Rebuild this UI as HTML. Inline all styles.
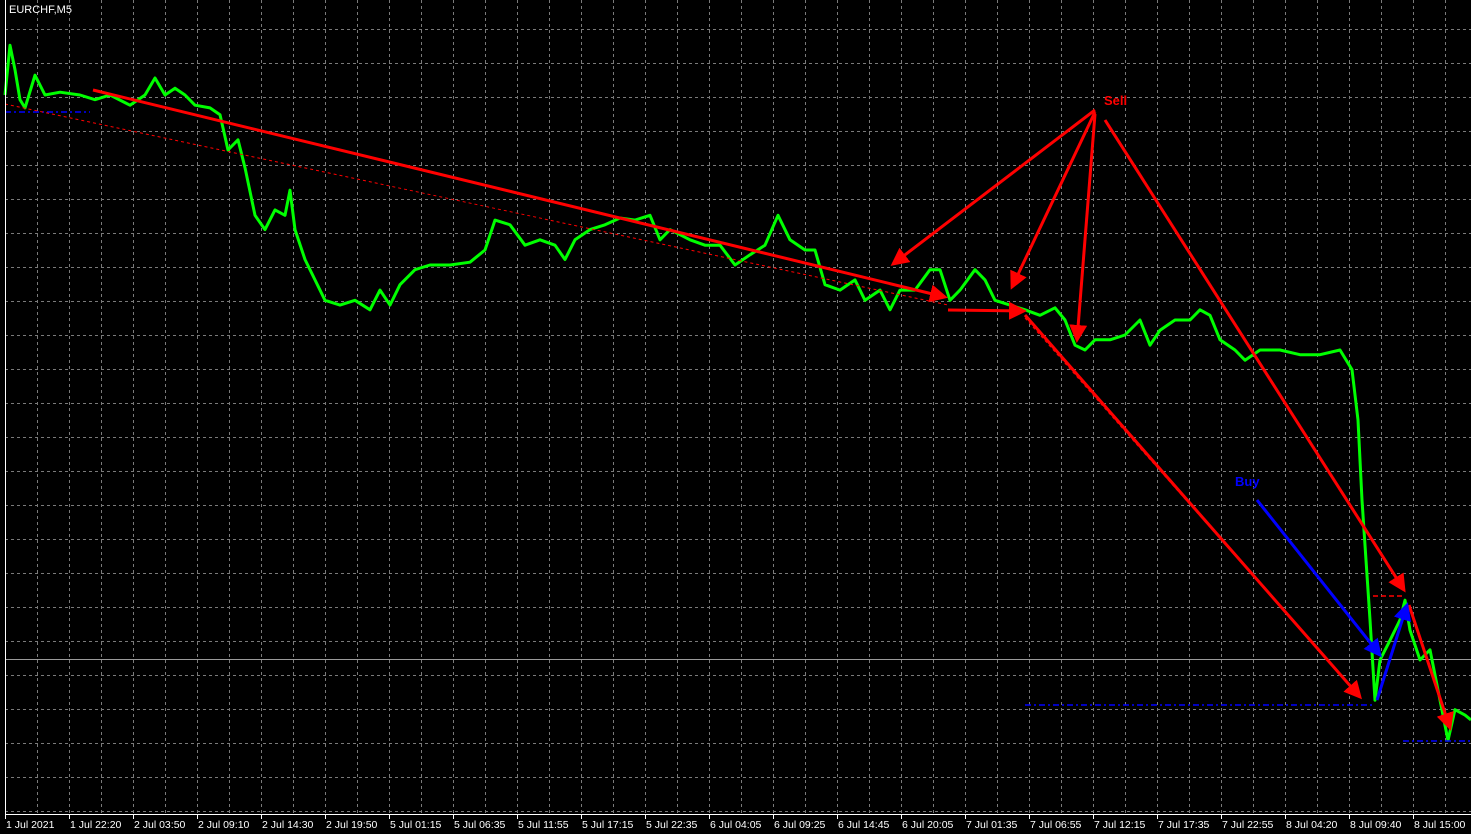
<!DOCTYPE html>
<html><head><meta charset="utf-8"><style>
html,body{margin:0;padding:0;background:#000;width:1471px;height:834px;overflow:hidden}
svg{display:block}
text{font-family:"Liberation Sans",sans-serif}
</style></head><body>
<svg id="chart" width="1471" height="834" xmlns="http://www.w3.org/2000/svg">
<defs>
<marker id="ar" markerWidth="6" markerHeight="6" refX="5" refY="3" orient="auto" markerUnits="strokeWidth"><path d="M0,0 L6,3 L0,6 z" fill="#ff0000"/></marker>
<marker id="ab" markerWidth="6" markerHeight="6" refX="5" refY="3" orient="auto" markerUnits="strokeWidth"><path d="M0,0 L6,3 L0,6 z" fill="#0000ff"/></marker>
</defs>
<g id="grid"></g>
<line x1="5" y1="659.5" x2="1471" y2="659.5" stroke="#9a9a9a" stroke-width="1"/>
<g id="series"></g>
<g id="annot"></g>
<g id="axis"></g>
<text x="9" y="13" fill="#fff" font-size="11">EURCHF,M5</text>
</svg>
<script>
const NS='http://www.w3.org/2000/svg';
const bars=[0,5,10,15,20,30,40,55,75,90,105,125,140,150,160,170,180,190,205,215,223,233,240,250,260,270,280,285,290,300,310,320,335,350,365,375,385,395,410,425,445,465,480,490,505,520,535,550,560,570,585,600,615,630,645,655,665,685,700,715,730,745,760,773,785,800,810,820,835,850,860,875,885,895,910,925,935,945,955,970,980,990,1005,1020,1035,1050,1060,1070,1080,1090,1105,1120,1135,1145,1155,1170,1185,1195,1205,1215,1230,1240,1255,1275,1295,1315,1335,1347,1353,1357,1361,1365,1370,1375,1385,1395,1400,1405,1415,1425,1435,1443,1450,1460,1466];
const prices=[10950.3,10957.6,10954.0,10949.6,10948.4,10953.2,10950.3,10950.7,10950.3,10949.6,10950.3,10948.8,10950.3,10952.8,10950.3,10951.3,10950.3,10948.8,10948.4,10947.4,10942.2,10943.7,10939.6,10932.6,10930.5,10933.4,10932.6,10936.3,10930.5,10926.1,10923.1,10920.1,10919.4,10920.1,10918.7,10921.6,10919.4,10922.4,10924.6,10925.3,10925.3,10925.7,10927.5,10931.9,10931.2,10928.2,10929.0,10928.2,10926.1,10929.0,10930.5,10931.2,10932.2,10931.9,10932.6,10929.0,10930.5,10929.0,10928.2,10928.2,10925.3,10926.8,10928.2,10932.6,10929.0,10927.5,10927.5,10922.4,10921.6,10923.1,10920.1,10921.6,10918.7,10921.6,10921.6,10924.6,10924.6,10920.1,10921.6,10924.6,10923.1,10920.1,10919.4,10918.7,10917.9,10919.0,10917.2,10913.5,10912.8,10914.3,10914.3,10915.0,10917.2,10913.5,10915.7,10917.2,10917.2,10918.7,10917.9,10914.3,10912.8,10911.3,10912.8,10912.8,10912.1,10912.1,10912.8,10909.9,10902.5,10890.7,10881.9,10873.1,10861.3,10867.2,10870.1,10873.1,10876.0,10871.6,10867.2,10868.7,10861.3,10855.4,10859.9,10859.1,10858.4];
const tickLabels=["1 Jul 2021","1 Jul 22:20","2 Jul 03:50","2 Jul 09:10","2 Jul 14:30","2 Jul 19:50","5 Jul 01:15","5 Jul 06:35","5 Jul 11:55","5 Jul 17:15","5 Jul 22:35","6 Jul 04:05","6 Jul 09:25","6 Jul 14:45","6 Jul 20:05","7 Jul 01:35","7 Jul 06:55","7 Jul 12:15","7 Jul 17:35","7 Jul 22:55","8 Jul 04:20","8 Jul 09:40","8 Jul 15:00"];
const x=b=>5+b;
const y=p=>29+(10960-p)*6.8;
function mk(tag,attrs,parent){const e=document.createElementNS(NS,tag);for(const k in attrs)e.setAttribute(k,attrs[k]);parent.appendChild(e);return e;}
const grid=document.getElementById('grid');
for(let gx=37;gx<1471;gx+=32){const l=mk('line',{x1:gx+.5,y1:0,x2:gx+.5,y2:813,stroke:'#7a7a7a','stroke-dasharray':'3,3'},grid);

}
for(let gy=29;gy<=811;gy+=34){const l=mk('line',{x1:5,y1:gy+.5,x2:1471,y2:gy+.5,stroke:'#7a7a7a','stroke-dasharray':'3,3'},grid);

}
const ser=document.getElementById('series');
const pl=mk('polyline',{points:bars.map((b,i)=>x(b)+','+y(prices[i]).toFixed(1)).join(' '),fill:'none',stroke:'#00ff00','stroke-width':3,'stroke-linejoin':'round'},ser);


const an=document.getElementById('annot');
function line(a,b,c,d,col,w,dash,name,marker){const l=mk('line',{x1:a,y1:b,x2:c,y2:d,stroke:col,'stroke-width':w},an);if(dash)l.setAttribute('stroke-dasharray',dash);if(marker)l.setAttribute('marker-end','url(#'+marker+')');

}
line(5,112,90,112,'#0000ff',1.5,'6,3,2,3','buy-level-1');
line(1025,705,1372,705,'#0000ff',1.5,'6,3,2,3','buy-level-2');
line(1403,741,1471,741,'#0000ff',1.5,'6,3,2,3','buy-level-3');
line(5,104,948,305,'#ff0000',1,'3,3','sell-trend-dotted');
line(1025,318,1360,697,'#ff0000',1,'3,3','sell-trend-dotted-2');
line(1373,596,1405,596,'#ff0000',1.5,'5,3','sell-level');
line(93,90,945,297,'#ff0000',3,null,'trend-arrow','ar');
line(1095,110,893,264,'#ff0000',3,null,'sell-arrow-1','ar');
line(1095,112,1012,287,'#ff0000',3,null,'sell-arrow-2','ar');
line(1095,114,1077,340,'#ff0000',3,null,'sell-arrow-3','ar');
line(1105,120,1404,590,'#ff0000',3,null,'sell-arrow-4','ar');
line(948,310,1024,311,'#ff0000',3,null,'sell-arrow-5','ar');
line(1025,315,1360,697,'#ff0000',3,null,'sell-arrow-6','ar');
line(1409,605,1450,728,'#ff0000',3,null,'sell-arrow-7','ar');
line(1257,500,1380,655,'#0000ff',3,null,'buy-arrow-1','ab');
line(1377,700,1407,605,'#0000ff',3,null,'buy-arrow-2','ab');
const s=mk('text',{x:1104,y:105,fill:'#ff0000','font-size':13,'font-weight':'bold'},an);s.textContent='Sell';


const bl=mk('text',{x:1235,y:486,fill:'#0000ff','font-size':13,'font-weight':'bold'},an);bl.textContent='Buy';


const ax=document.getElementById('axis');
const bl1=mk('line',{x1:5,y1:814.5,x2:1471,y2:814.5,stroke:'#fff','stroke-width':1},ax);


const bl2=mk('line',{x1:5.5,y1:0,x2:5.5,y2:815,stroke:'#fff','stroke-width':1},ax);


tickLabels.forEach((t,i)=>{const tx=5+64*i;
const tk=mk('line',{x1:tx+.5,y1:814,x2:tx+.5,y2:819,stroke:'#fff'},ax);


const tl=mk('text',{x:tx+1,y:828,fill:'#fff','font-size':10.5},ax);tl.textContent=t;

});
</script>
</body></html>
